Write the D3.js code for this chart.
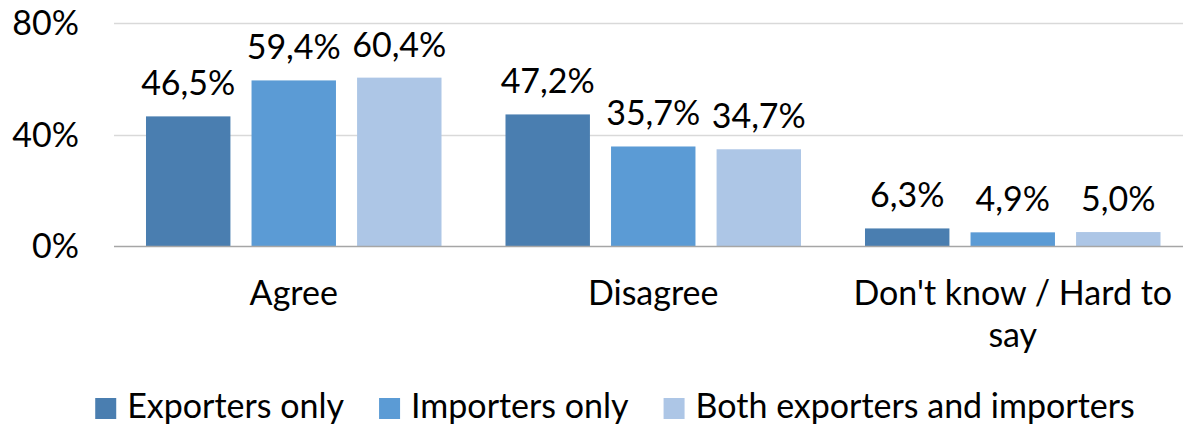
<!DOCTYPE html>
<html>
<head>
<meta charset="utf-8">
<script src="https://cdn.jsdelivr.net/npm/d3@7"></script>
<style>
  html, body { margin: 0; padding: 0; background: #fff; }
  svg { display: block; }
  text { font-family: Lato, "Open Sans", sans-serif; fill: #000; }
</style>
</head>
<body>
<svg id="chart" width="1183" height="430"></svg>
<script>
const categories = ["Agree", "Disagree", "Don't know / Hard to say"];
const seriesNames = ["Exporters only", "Importers only", "Both exporters and importers"];
const exportersOnly = [46.5, 47.2, 6.3];
const importersOnly = [59.4, 35.7, 4.9];
const bothExpImp = [60.4, 34.7, 5.0];
const tickValues = [0, 40, 80];
const colors = ["#4A7EB0", "#5B9BD5", "#ADC6E6"];

const seriesValues = [exportersOnly, importersOnly, bothExpImp];
const FS = 34;

const svg = d3.select("#chart");
const W = 1183;
const plotLeft = 114, plotRight = 1192.5;

const y = d3.scaleLinear().domain([0, 80]).range([246, 23]);
const x0 = d3.scaleBand().domain(categories).range([plotLeft, plotRight])
  .paddingInner(0.178).paddingOuter(0.089);
const x1 = d3.scaleBand().domain(seriesNames).range([0, x0.bandwidth()])
  .paddingInner(0.2).paddingOuter(0);

// gridlines
svg.append("g").selectAll("line").data(tickValues.filter(d => d > 0)).join("line")
  .attr("x1", plotLeft).attr("x2", W)
  .attr("y1", d => Math.round(y(d)) + 0.5).attr("y2", d => Math.round(y(d)) + 0.5)
  .attr("stroke", "#D9D9D9").attr("stroke-width", 1.5);

// y tick labels
svg.append("g").selectAll("text").data(tickValues).join("text")
  .attr("x", 79).attr("y", d => y(d) + 12)
  .attr("text-anchor", "end").attr("font-size", FS)
  .text(d => d + "%");

// bars
const groups = svg.append("g").selectAll("g").data(categories).join("g")
  .attr("transform", c => `translate(${x0(c)},0)`);

groups.selectAll("rect")
  .data((c, ci) => seriesNames.map((s, si) => ({ s, v: seriesValues[si][ci], si })))
  .join("rect")
  .attr("x", d => x1(d.s)).attr("width", x1.bandwidth())
  .attr("y", d => y(d.v)).attr("height", d => y(0) - y(d.v))
  .attr("fill", d => colors[d.si]);

groups.selectAll("text.lbl")
  .data((c, ci) => seriesNames.map((s, si) => ({ s, v: seriesValues[si][ci], si })))
  .join("text").attr("class", "lbl")
  .attr("x", d => x1(d.s) + x1.bandwidth() / 2)
  .attr("y", d => y(d.v) - 21)
  .attr("text-anchor", "middle").attr("font-size", FS)
  .text(d => d.v.toFixed(1).replace(".", ",") + "%");

// baseline axis
svg.append("line")
  .attr("x1", plotLeft).attr("x2", W)
  .attr("y1", Math.round(y(0)) + 0.5).attr("y2", Math.round(y(0)) + 0.5)
  .attr("stroke", "#A6A6A6").attr("stroke-width", 1.5);

// category labels with wrapping
const maxW = 345;
categories.forEach(c => {
  const t = svg.append("text").attr("text-anchor", "middle").attr("font-size", FS)
    .attr("x", x0(c) + x0.bandwidth() / 2).attr("y", 305);
  const words = c.split(" ");
  let lines = [], cur = [];
  const probe = svg.append("text").attr("font-size", FS);
  words.forEach(w => {
    const test = cur.concat([w]).join(" ");
    probe.text(test);
    if (probe.node().getComputedTextLength() > maxW && cur.length) {
      lines.push(cur.join(" ")); cur = [w];
    } else cur.push(w);
  });
  lines.push(cur.join(" "));
  probe.remove();
  lines.forEach((ln, i) => {
    t.append("tspan").attr("x", x0(c) + x0.bandwidth() / 2).attr("dy", i === 0 ? 0 : 42).text(ln);
  });
});

// legend
const legend = svg.append("g");
const sw = 21, gapSwText = 11, gapItems = 35;
let widths = seriesNames.map(s => {
  const p = svg.append("text").attr("font-size", FS).text(s);
  const w = p.node().getComputedTextLength(); p.remove(); return w;
});
const total = d3.sum(widths) + seriesNames.length * (sw + gapSwText) + gapItems * (seriesNames.length - 1);
let lx = 615 - total / 2;
seriesNames.forEach((s, i) => {
  legend.append("rect").attr("x", lx).attr("y", 398).attr("width", sw).attr("height", sw)
    .attr("fill", colors[i]);
  legend.append("text").attr("x", lx + sw + gapSwText).attr("y", 418)
    .attr("font-size", FS).text(s);
  lx += sw + gapSwText + widths[i] + gapItems;
});
</script>
</body>
</html>
